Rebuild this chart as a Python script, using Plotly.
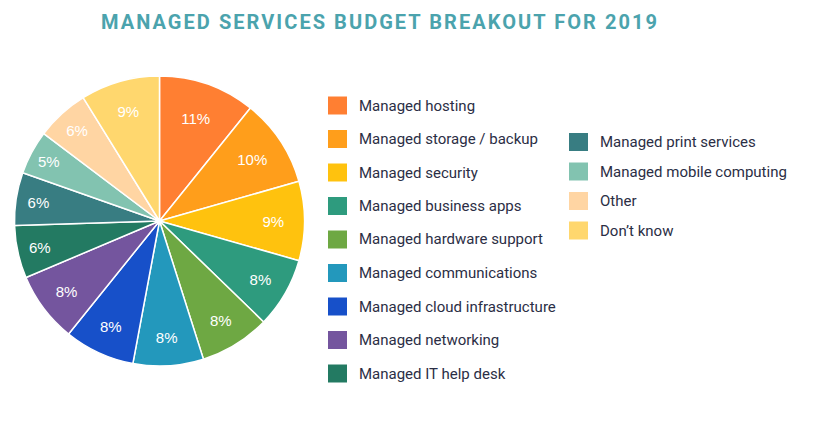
import plotly.graph_objects as go

categories = [
    "Managed hosting", "Managed storage / backup", "Managed security",
    "Managed business apps", "Managed hardware support", "Managed communications",
    "Managed cloud infrastructure", "Managed networking", "Managed IT help desk",
    "Managed print services", "Managed mobile computing", "Other", "Don\u2019t know",
]
values = [11, 10, 9, 8, 8, 8, 8, 8, 6, 6, 5, 6, 9]
colors = [
    "#FF7F32", "#FF9E1B", "#FFC20E", "#2E9B7E", "#6EA843", "#2398BC",
    "#1750C9", "#74559E", "#237A62", "#387D82", "#82C3B0", "#FFD5A3", "#FFD76E",
]
pct_labels = [f"{v}%" for v in values]

W, H = 817, 436

def px(x):
    return x / W

def py(y):
    return 1 - y / H

fig = go.Figure()
fig.add_trace(go.Pie(
    labels=categories, values=values, sort=False, direction="clockwise",
    rotation=0, text=pct_labels, texttemplate="%{text}", textinfo="text",
    textposition="inside", insidetextorientation="horizontal",
    textfont=dict(family="Liberation Sans, Arial", size=15, color="white"),
    marker=dict(colors=colors, line=dict(color="white", width=1.5)),
    domain=dict(x=[px(14.5), px(304.5)], y=[py(366), py(76)]),
    showlegend=False, hoverinfo="label+text",
))

shapes = []
annotations = []
col1_y0, col1_step = 105.5, 33.5
col2_y0, col2_step = 142, 29.5
for i, (name, c) in enumerate(zip(categories, colors)):
    if i < 9:
        yc = col1_y0 + i * col1_step
        sx, tx = 328, 357
    else:
        yc = col2_y0 + (i - 9) * col2_step
        sx, tx = 569, 598
    shapes.append(dict(type="rect", xref="paper", yref="paper",
                       x0=px(sx), x1=px(sx + 19), y0=py(yc + 9), y1=py(yc - 9),
                       fillcolor=c, line=dict(width=0)))
    annotations.append(dict(text=name, xref="paper", yref="paper", x=px(tx), y=py(yc),
                            xanchor="left", yanchor="middle", showarrow=False,
                            font=dict(family="Roboto", size=15, color="#2B2E45")))

annotations.append(dict(text="<b>MANAGED SERVICES BUDGET BREAKOUT FOR 2019</b>",
                        xref="paper", yref="paper", x=px(380), y=py(22),
                        xanchor="center", yanchor="middle", showarrow=False,
                        font=dict(family="Roboto", size=20, color="#4BA3AD")))

fig.update_layout(
    width=W, height=H, margin=dict(l=0, r=0, t=0, b=0),
    paper_bgcolor="white", plot_bgcolor="white",
    shapes=shapes, annotations=annotations,
)

post = """
document.body.style.margin = '0';
document.body.style.padding = '0';
var gd = document.getElementById('{plot_id}');
function ls(){
  gd.querySelectorAll('.annotation-text').forEach(function(e){
    if (e.textContent.indexOf('MANAGED SERVICES') === 0) { e.style.letterSpacing = '2.05px'; }
  });
}
ls();
gd.on('plotly_afterplot', ls);
"""
fig.write_html("out.html", post_script=post, config={"displayModeBar": False})
